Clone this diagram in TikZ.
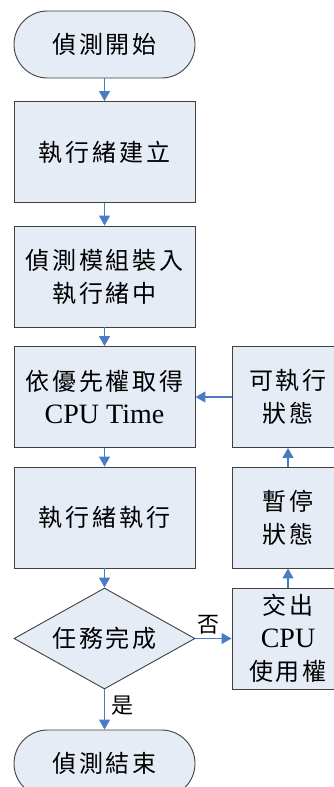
\documentclass[tikz,border=0pt]{standalone}
\usepackage{fontspec}
\setmainfont{Liberation Serif}
\newfontfamily\cjk[LetterSpace=12]{Noto Sans CJK TC}
\usetikzlibrary{arrows.meta,shapes.geometric}
\definecolor{boxfill}{HTML}{E6ECF6}
\definecolor{boxline}{HTML}{404040}
\definecolor{arrowblue}{HTML}{4A7CC4}
\tikzset{
  box/.style={draw=boxline, fill=boxfill, line width=0.9pt, minimum width=181pt, minimum height=101pt, inner sep=0pt, align=center, font=\fontsize{24}{33}\selectfont},
  rbox/.style={box, minimum width=112pt},
  term/.style={box, minimum height=67pt, rounded corners=33.5pt},
  decision/.style={draw=boxline, fill=boxfill, line width=0.9pt, diamond, aspect=1.8, minimum width=181pt, minimum height=101pt, inner sep=0pt, font=\fontsize{24}{33}\selectfont},
  flow/.style={draw=arrowblue, line width=1.1pt, -{Triangle[length=10pt,width=11pt]}},
  lbl/.style={font=\fontsize{22}{26}\selectfont, inner sep=0pt}
}
\begin{document}
\begin{tikzpicture}[x=1pt,y=-1pt]
\useasboundingbox (0,0) rectangle (334,787);
\node[term] (start) at (104.5,44.5) {\cjk 偵測開始};
\node[box] (b1) at (104.5,152) {\cjk 執行緒建立};
\node[box] (b2) at (104.5,276.5) {\cjk 偵測模組裝入\\\cjk 執行緒中};
\node[box] (b3) at (104.5,397) {\cjk 依優先權取得\\ \fontsize{28}{33}\selectfont CPU Time};
\node[box] (b4) at (104.5,517.5) {\cjk 執行緒執行};
\node[decision] (d) at (104.5,638.5) {\cjk 任務完成};
\node[term] (end) at (104.5,763.5) {\cjk 偵測結束};
\node[rbox] (r1) at (288,397) {\cjk 可執行\\\cjk 狀態};
\node[rbox] (r2) at (288,517.5) {\cjk 暫停\\\cjk 狀態};
\node[rbox] (r3) at (288,638.5) {\cjk 交出\\ \fontsize{28}{33}\selectfont CPU\\\cjk 使用權};
\draw[flow] (start) -- (b1);
\draw[flow] (b1) -- (b2);
\draw[flow] (b2) -- (b3);
\draw[flow] (b3) -- (b4);
\draw[flow] (b4) -- (d);
\draw[flow] (d.east) -- (r3.west) node[lbl, pos=0.35, above=4pt] {\cjk 否};
\draw[flow] (d.south) -- (end.north) node[lbl, pos=0.4, right=6pt] {\cjk 是};
\draw[flow] (r3) -- (r2);
\draw[flow] (r2) -- (r1);
\draw[flow] (r1) -- (b3);
\end{tikzpicture}
\end{document}
